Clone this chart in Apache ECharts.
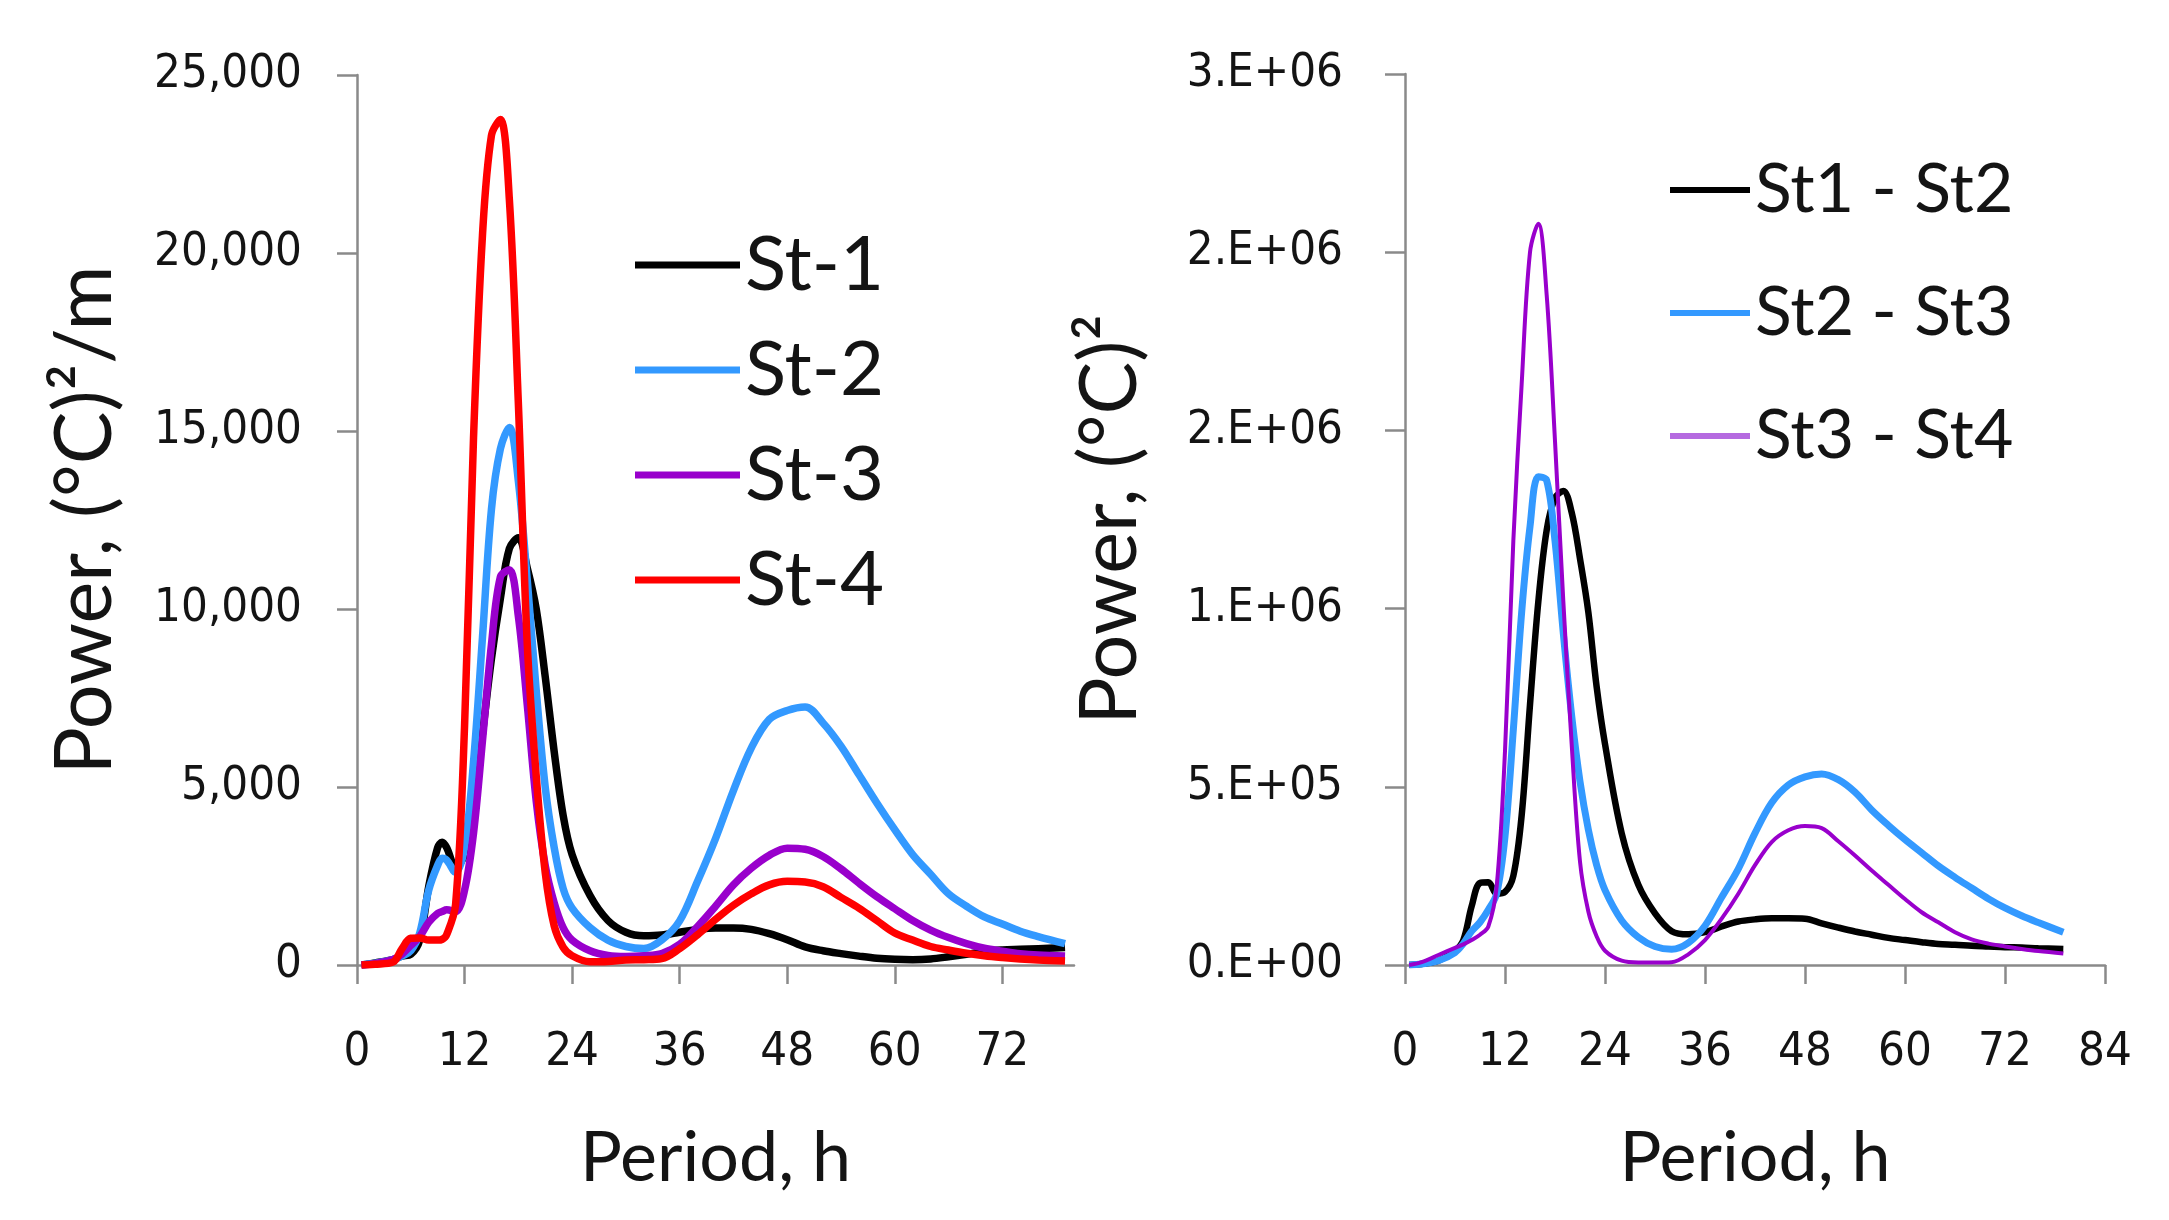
<!DOCTYPE html>
<html>
<head>
<meta charset="utf-8">
<title>Power spectra</title>
<script src="https://cdn.jsdelivr.net/npm/echarts@6/dist/echarts.min.js"></script>
<style>
  html, body { margin: 0; padding: 0; background: #fff; }
  #chart { width: 2169px; height: 1220px; }
</style>
</head>
<body>
<div id="chart"></div>
<script>
// left panel: power per station, (°C)^2/m
var leftHours = [0.5, 2, 4, 5, 6, 7, 8, 9, 9.5, 10, 11, 12, 13, 14, 15, 16, 17, 18, 19, 20,
  21, 22, 23, 24, 26, 28, 30, 32, 34, 36, 38, 40, 42, 44, 46, 48, 50, 52, 54, 56,
  58, 60, 62, 64, 66, 68, 70, 72, 74, 76, 79];
var st1 = [0, 60, 150, 250, 300, 700, 2200, 3300, 3450, 3300, 2750, 3100, 4500, 6500, 8600, 10300, 11700, 12000, 11150, 10000,
  8100, 6000, 4200, 3100, 1950, 1250, 920, 820, 840, 920, 1000, 1040, 1040, 1000, 880, 710, 510, 400, 320, 250,
  190, 160, 150, 170, 230, 300, 380, 420, 440, 460, 490];
var st2 = [0, 50, 150, 250, 400, 900, 2100, 2800, 3000, 2950, 2600, 3300, 5700, 9200, 12800, 14500, 15100, 13600, 10800, 7700,
  5000, 3300, 2150, 1600, 1050, 700, 520, 460, 700, 1240, 2350, 3550, 4900, 6100, 6900, 7150, 7250, 6800, 6150, 5350,
  4550, 3800, 3100, 2550, 2000, 1650, 1350, 1150, 950, 800, 600];
var st3 = [0, 40, 150, 300, 550, 800, 1200, 1450, 1500, 1550, 1500, 2100, 3700, 6300, 9000, 10900, 11100, 9800, 7300, 4600,
  2800, 1750, 1050, 700, 400, 270, 240, 260, 320, 580, 1080, 1650, 2250, 2720, 3080, 3280, 3250, 3050, 2700, 2300,
  1920, 1580, 1250, 980, 770, 600, 470, 390, 320, 280, 250];
var st4 = [0, 20, 80, 450, 750, 760, 700, 700, 720, 850, 1700, 6700, 14800, 20500, 23300, 23750, 21500, 15800, 9000, 5300,
  2600, 1100, 500, 260, 90, 100, 140, 150, 180, 460, 850, 1280, 1680, 2000, 2250, 2350, 2330, 2200, 1900, 1600,
  1250, 900, 700, 520, 420, 330, 260, 210, 170, 140, 110];

// right panel: cross power between station pairs, (°C)^2
var rightHours = [0.5, 2, 4, 6, 7, 8, 9, 10, 11, 12, 13, 14, 15, 16, 17, 18, 19, 20, 21, 22,
  23, 24, 26, 28, 30, 32, 34, 36, 38, 40, 42, 44, 46, 48, 50, 52, 54, 56, 58, 60,
  62, 64, 66, 68, 70, 72, 74, 76, 79];
var st12 = [0, 3000, 12000, 40000, 70000, 165000, 230000, 232000, 200000, 205000, 250000, 420000, 730000, 1020000, 1220000, 1310000, 1330000, 1270000, 1140000, 990000,
  780000, 620000, 370000, 225000, 145000, 95000, 86000, 92000, 108000, 122000, 128000, 131000, 131000, 130000, 117000, 105000, 94000, 85000, 76000, 70000,
  64000, 59000, 57000, 54000, 52000, 50000, 49000, 47000, 45000];
var st23 = [0, 3000, 12000, 35000, 60000, 95000, 120000, 155000, 200000, 360000, 660000, 990000, 1230000, 1370000, 1360000, 1190000, 930000, 700000, 515000, 380000,
  280000, 210000, 125000, 78000, 52000, 44000, 62000, 110000, 190000, 270000, 370000, 455000, 505000, 528000, 536000, 520000, 485000, 435000, 392000, 352000,
  315000, 278000, 246000, 216000, 186000, 160000, 138000, 119000, 92000];
var st34 = [0, 8000, 28000, 48000, 58000, 70000, 85000, 108000, 220000, 600000, 1190000, 1630000, 2000000, 2080000, 1880000, 1470000, 1020000, 620000, 290000, 150000,
  80000, 40000, 12000, 7000, 7000, 8000, 30000, 70000, 130000, 200000, 280000, 345000, 378000, 390000, 384000, 347000, 307000, 265000, 225000, 185000,
  148000, 120000, 92000, 72000, 60000, 52000, 45000, 39000, 32000];

var leftXTicks = [0, 12, 24, 36, 48, 60, 72];
var rightXTicks = [0, 12, 24, 36, 48, 60, 72, 84];

var labelFont = "'DejaVu Sans Condensed', 'DejaVu Sans', sans-serif";
var titleFont = "Lato, 'Open Sans', sans-serif";
var axisGray = '#8a8a8a';
var textColor = '#141414';

function pairs(hours, vals) {
  return hours.map(function(h, i) { return [h, vals[i]]; });
}

// Excel "0.E+00" style labels
function sciLabel(v) {
  if (v === 0) { return '0.E+00'; }
  var e = Math.floor(Math.log10(v));
  var m = Math.round(v / Math.pow(10, e));
  if (m >= 10) { m = 1; e++; }
  return m + '.E+' + (e < 10 ? '0' : '') + e;
}

function xAxisFor(gridIndex, max, ticks) {
  return {
    type: 'value', gridIndex: gridIndex, min: 0, max: max, interval: 12,
    name: 'Period, h', nameLocation: 'middle', nameGap: 158,
    nameTextStyle: { fontFamily: titleFont, fontSize: 70, color: textColor },
    axisLine: { lineStyle: { color: axisGray, width: 2.5 } },
    axisTick: { show: true, length: 19, inside: false, customValues: ticks,
      lineStyle: { color: axisGray, width: 2.5 } },
    axisLabel: { customValues: ticks, margin: 64, fontFamily: labelFont, fontSize: 47, color: textColor },
    splitLine: { show: false }
  };
}

function yAxisFor(gridIndex, max, interval, name, gap, fmt, margin) {
  return {
    type: 'value', gridIndex: gridIndex, min: 0, max: max, interval: interval,
    name: name, nameLocation: 'middle', nameGap: gap, nameRotate: 90,
    nameTextStyle: { fontFamily: titleFont, fontSize: 79, color: textColor },
    axisLine: { show: true, lineStyle: { color: axisGray, width: 2.5 } },
    axisTick: { show: true, length: 20, inside: false, lineStyle: { color: axisGray, width: 2.5 } },
    axisLabel: { formatter: fmt, margin: margin, fontFamily: labelFont, fontSize: 47, color: textColor },
    splitLine: { show: false }
  };
}

function lineSeries(name, data, color, width, xi) {
  return {
    name: name, type: 'line', xAxisIndex: xi, yAxisIndex: xi,
    data: data, smooth: 0.35, showSymbol: false, symbol: 'none',
    lineStyle: { color: color, width: width }, itemStyle: { color: color },
    emphasis: { disabled: true }, animation: false
  };
}

var chart = echarts.init(document.getElementById('chart'));
chart.setOption({
  backgroundColor: '#ffffff',
  animation: false,
  grid: [
    { left: 357, top: 75, width: 717, height: 890 },
    { left: 1405, top: 74, width: 700, height: 891 }
  ],
  legend: [
    {
      orient: 'vertical', left: 630, top: 215,
      itemWidth: 105, itemHeight: 7, itemGap: 15, icon: 'rect',
      textStyle: { fontFamily: titleFont, fontSize: 76, lineHeight: 90, color: textColor },
      data: ['St-1', 'St-2', 'St-3', 'St-4']
    },
    {
      orient: 'vertical', left: 1665, top: 143,
      itemWidth: 80, itemHeight: 6, itemGap: 39, icon: 'rect',
      textStyle: { fontFamily: titleFont, fontSize: 68, lineHeight: 84, color: textColor },
      data: ['St1 - St2', 'St2 - St3', { name: 'St3 - St4', itemStyle: { color: '#b56ae0' } }]
    }
  ],
  xAxis: [
    xAxisFor(0, 80, leftXTicks),
    xAxisFor(1, 84, rightXTicks)
  ],
  yAxis: [
    yAxisFor(0, 25000, 5000, 'Power, (°C)²/m', 232, function(v) { return v.toLocaleString('en-US'); }, 55),
    yAxisFor(1, 2500000, 500000, 'Power, (°C)²', 255, sciLabel, 62)
  ],
  series: [
    lineSeries('St-1', pairs(leftHours, st1), '#000000', 7.5, 0),
    lineSeries('St-2', pairs(leftHours, st2), '#3399ff', 7.5, 0),
    lineSeries('St-3', pairs(leftHours, st3), '#9900cc', 7.5, 0),
    lineSeries('St-4', pairs(leftHours, st4), '#ff0000', 7.5, 0),
    lineSeries('St1 - St2', pairs(rightHours, st12), '#000000', 6.5, 1),
    lineSeries('St2 - St3', pairs(rightHours, st23), '#3399ff', 7, 1),
    lineSeries('St3 - St4', pairs(rightHours, st34), '#9900cc', 4, 1)
  ]
});
</script>
</body>
</html>
